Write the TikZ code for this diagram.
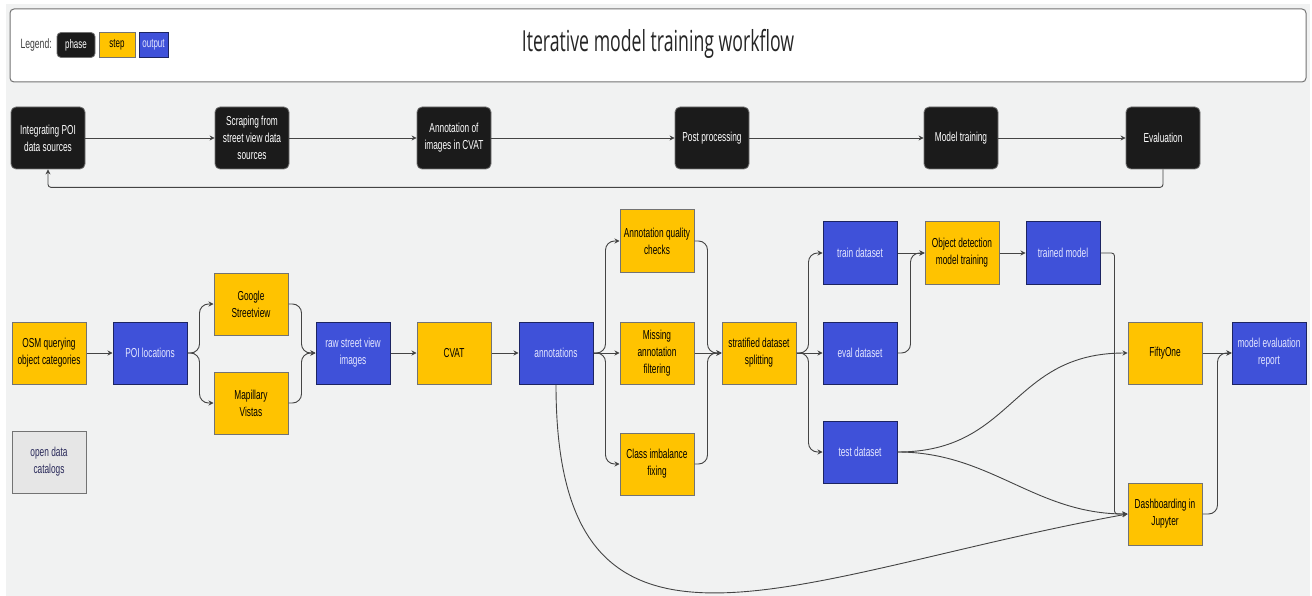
\documentclass[tikz,border=0pt]{standalone}
\usepackage{fontspec}
\setmainfont{Liberation Sans}[FakeStretch=0.64]
\newfontfamily\titlefont{Open Sans}[FakeStretch=0.61]
\usetikzlibrary{arrows.meta}
\definecolor{phasecol}{HTML}{1B1B1B}
\definecolor{stepcol}{HTML}{FFC300}
\definecolor{outcol}{HTML}{3F51D9}
\definecolor{bgcol}{HTML}{F1F2F2}
\definecolor{linecol}{HTML}{444444}
\definecolor{outtext}{HTML}{E4E6FF}
\definecolor{catcol}{HTML}{E6E6E6}
\definecolor{cattext}{HTML}{2A2A5A}
\begin{document}
\begin{tikzpicture}[x=1pt,y=-1pt,
  wfbox/.style={minimum width=74pt,minimum height=62pt,inner sep=1pt,align=center,font=\fontsize{13}{17}\selectfont},
  phasebox/.style={wfbox,fill=phasecol,draw=black!55,rounded corners=5pt,text=white,line width=0.8pt},
  stepbox/.style={wfbox,fill=stepcol,draw=black!55,text=black,line width=1pt},
  outbox/.style={wfbox,fill=outcol,draw=outcol!45!black,text=outtext,line width=1pt},
  legendbox/.style={minimum height=25pt,inner sep=1pt,line width=0.8pt,font=\fontsize{12.5}{13}\selectfont},
  flow/.style={draw=linecol,line width=0.9pt,-{Stealth[length=5pt,width=5pt]}},
  elbow/.style={flow,rounded corners=9pt}]
\useasboundingbox (0,0) rectangle (1312,596);
\fill[white] (0,0) rectangle (1312,596);
\fill[bgcol] (6,4) rectangle (1310,596);
\draw[fill=white,draw=black!55,rounded corners=4pt,line width=1pt] (10,9) rectangle (1306,82);
\node[font=\titlefont\fontsize{29}{32}\selectfont,text=black!85] (title) at (658,44) {Iterative model training workflow};
\node[anchor=west,font=\fontsize{13.5}{14}\selectfont,text=black!75] (legend) at (17,45) {Legend:};
\node[legendbox,minimum width=38pt,fill=phasecol,draw=black!55,rounded corners=4pt,text=white] (lphase) at (76,45) {phase};
\node[legendbox,minimum width=36pt,fill=stepcol,draw=black!55] (lstep) at (117,45) {step};
\node[legendbox,minimum width=29pt,fill=outcol,draw=outcol!45!black,text=outtext] (lout) at (153.5,45) {output};
\node[phasebox] (integ) at (48,138) {Integrating POI\\data sources};
\node[phasebox] (scrap) at (252,138) {Scraping from\\street view data\\sources};
\node[phasebox] (annot) at (454,138) {Annotation of\\images in CVAT};
\node[phasebox] (post) at (712,138) {Post processing};
\node[phasebox] (mtrain) at (961,138) {Model training};
\node[phasebox] (evalu) at (1163,138) {Evaluation};
\draw[flow] (integ) -- (scrap);
\draw[flow] (scrap) -- (annot);
\draw[flow] (annot) -- (post);
\draw[flow] (post) -- (mtrain);
\draw[flow] (mtrain) -- (evalu);
\draw[flow,rounded corners=3pt] (evalu.south) -- ++(0,18) -| (integ.south);
\node[stepbox] (osm) at (49,353) {OSM querying\\object categories};
\node[outbox] (poi) at (150,353) {POI locations};
\node[stepbox] (gsv) at (251,304) {Google\\Streetview};
\node[stepbox] (mapil) at (251,403) {Mapillary\\Vistas};
\node[outbox] (raw) at (353,353) {raw street view\\images};
\node[stepbox] (cvat) at (454,353) {CVAT};
\node[outbox] (ann) at (556,353) {annotations};
\node[stepbox] (aqc) at (657,241) {Annotation quality\\checks};
\node[stepbox] (miss) at (657,353) {Missing\\annotation\\filtering};
\node[stepbox] (cif) at (657,464) {Class imbalance\\fixing};
\node[stepbox] (strat) at (759,353) {stratified dataset\\splitting};
\node[outbox] (train) at (860,253) {train dataset};
\node[outbox] (evald) at (860,353) {eval dataset};
\node[outbox] (test) at (860,452) {test dataset};
\node[stepbox] (odmt) at (962,253) {Object detection\\model training};
\node[outbox] (trained) at (1063,253) {trained model};
\node[stepbox] (fifty) at (1165,353) {FiftyOne};
\node[outbox] (report) at (1269,353) {model evaluation\\report};
\node[stepbox] (dash) at (1165,514) {Dashboarding in\\Jupyter};
\node[wfbox,fill=catcol,draw=black!55,line width=1pt,text=cattext] (cat) at (49,462) {open data\\catalogs};
\draw[flow] (osm) -- (poi);
\draw[elbow] (poi.east) -| ([xshift=-14pt]gsv.west) -- (gsv.west);
\draw[elbow] (poi.east) -| ([xshift=-14pt]mapil.west) -- (mapil.west);
\draw[elbow] (gsv.east) -| ([xshift=-14pt]raw.west) -- (raw.west);
\draw[elbow] (mapil.east) -| ([xshift=-14pt]raw.west) -- (raw.west);
\draw[flow] (raw) -- (cvat);
\draw[flow] (cvat) -- (ann);
\draw[elbow] (ann.east) -| ([xshift=-14pt]aqc.west) -- (aqc.west);
\draw[flow] (ann) -- (miss);
\draw[elbow] (ann.east) -| ([xshift=-14pt]cif.west) -- (cif.west);
\draw[elbow] (aqc.east) -| ([xshift=-14pt]strat.west) -- (strat.west);
\draw[flow] (miss) -- (strat);
\draw[elbow] (cif.east) -| ([xshift=-14pt]strat.west) -- (strat.west);
\draw[elbow] (strat.east) -| ([xshift=-14pt]train.west) -- (train.west);
\draw[flow] (strat) -- (evald);
\draw[elbow] (strat.east) -| ([xshift=-14pt]test.west) -- (test.west);
\draw[flow] (train) -- (odmt);
\draw[elbow] (evald.east) -| ([xshift=-14pt]odmt.west) -- (odmt.west);
\draw[flow] (odmt) -- (trained);
\draw[flow,rounded corners=3pt] (trained.east) -| ([xshift=-13pt]dash.west) -- (dash.west);
\draw[flow] (test.east) to[out=0,in=180,looseness=1.2] (fifty.west);
\draw[flow] (test.east) to[out=0,in=180] (dash.west);
\draw[flow] (ann.south) .. controls +(0,322) and +(-337,61) .. (dash.west);
\draw[flow] (fifty) -- (report);
\draw[elbow] (dash.east) -| ([xshift=-14pt]report.west) -- (report.west);
\end{tikzpicture}
\end{document}
